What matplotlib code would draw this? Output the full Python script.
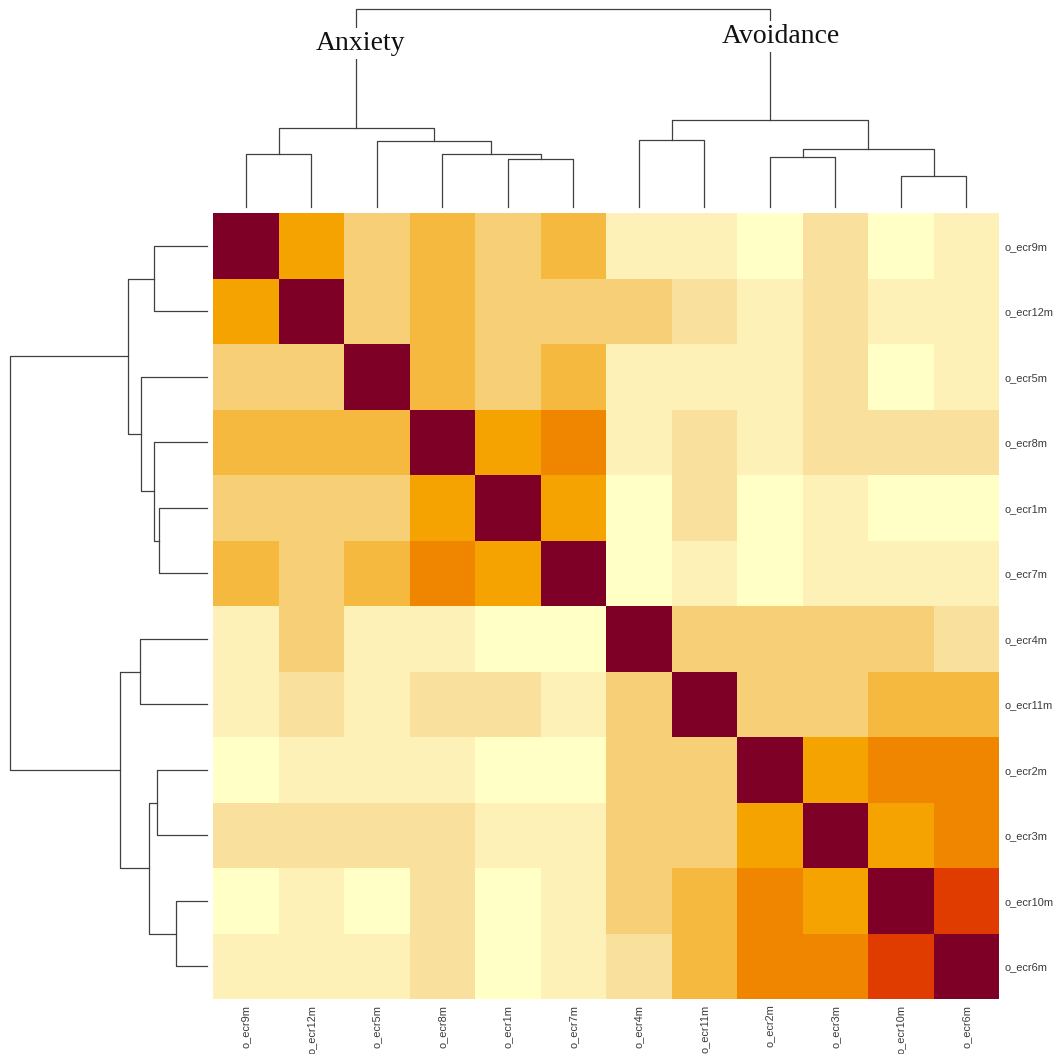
import numpy as np
import matplotlib
matplotlib.use("Agg")
import matplotlib.pyplot as plt
from matplotlib.colors import ListedColormap, BoundaryNorm

# items in the clustered (display) order
items = ["o_ecr9m", "o_ecr12m", "o_ecr5m", "o_ecr8m", "o_ecr1m", "o_ecr7m",
         "o_ecr4m", "o_ecr11m", "o_ecr2m", "o_ecr3m", "o_ecr10m", "o_ecr6m"]

# correlations
r = np.array([
    [1.00, .55, .35, .45, .35, .45, .15, .15, .05, .25, .05, .15],
    [.55, 1.00, .35, .45, .35, .35, .35, .25, .15, .25, .15, .15],
    [.35, .35, 1.00, .45, .35, .45, .15, .15, .15, .25, .05, .15],
    [.45, .45, .45, 1.00, .55, .65, .15, .25, .15, .25, .25, .25],
    [.35, .35, .35, .55, 1.00, .55, .05, .25, .05, .15, .05, .05],
    [.45, .35, .45, .65, .55, 1.00, .05, .15, .05, .15, .15, .15],
    [.15, .35, .15, .15, .05, .05, 1.00, .35, .35, .35, .35, .25],
    [.15, .25, .15, .25, .25, .15, .35, 1.00, .35, .35, .45, .45],
    [.05, .15, .15, .15, .05, .05, .35, .35, 1.00, .55, .65, .65],
    [.25, .25, .25, .25, .15, .15, .35, .35, .55, 1.00, .55, .65],
    [.05, .15, .05, .25, .05, .15, .35, .45, .65, .55, 1.00, .75],
    [.15, .15, .15, .25, .05, .15, .25, .45, .65, .65, .75, 1.00],
])

bounds = [0, .1, .2, .3, .4, .5, .6, .7, .8, 1.01]
colors = ["#FFFFC6", "#FDF1B8", "#F9E09D", "#F6CF77", "#F5B93F",
          "#F5A300", "#F08600", "#E03C00", "#7F0026"]

# hierarchical merges: (left, right, height); leaves 0..11, nodes 12+
merges = [
    (4, 5, 0.48),
    (3, 12, 0.535),
    (2, 13, 0.66),
    (0, 1, 0.53),
    (15, 14, 0.79),
    (10, 11, 0.31),
    (8, 9, 0.50),
    (18, 17, 0.58),
    (6, 7, 0.67),
    (20, 19, 0.87),
    (16, 21, 1.98),
]
cluster_names = ["Anxiety", "Avoidance"]

W, H = 1058, 1054
fig = plt.figure(figsize=(W / 100, H / 100), dpi=100)

cmap = ListedColormap(colors)
norm = BoundaryNorm(bounds, cmap.N)

ax = fig.add_axes([213 / W, (H - 999) / H, 786 / W, 786 / H])
ax.pcolormesh(r, cmap=cmap, norm=norm)
ax.set_xlim(0, 12)
ax.set_ylim(12, 0)
for s in ax.spines.values():
    s.set_visible(False)
ax.set_xticks(np.arange(12) + 0.5)
ax.set_xticklabels(items, rotation=90, fontsize=7.9, color="#3a3a3a",
                   family="Liberation Sans")
ax.set_yticks(np.arange(12) + 0.5)
ax.set_yticklabels(items, fontsize=7.9, color="#3a3a3a", family="Liberation Sans")
ax.yaxis.tick_right()
ax.tick_params(length=0, pad=4.0)


def dendro(axd, horizontal):
    pos = {i: i + 0.5 for i in range(12)}
    hgt = {i: 0.0 for i in range(12)}
    for k, (a, b, h) in enumerate(merges):
        xs = [pos[a], pos[a], pos[b], pos[b]]
        ys = [hgt[a], h, h, hgt[b]]
        if horizontal:
            axd.plot(ys, xs, color="#404040", lw=0.9, clip_on=False)
        else:
            axd.plot(xs, ys, color="#404040", lw=0.9, clip_on=False)
        pos[12 + k] = (pos[a] + pos[b]) / 2
        hgt[12 + k] = h
    axd.axis("off")
    return pos


axt = fig.add_axes([213 / W, (H - 207) / H, 786 / W, (207 - 9.3) / H])
pos = dendro(axt, False)
axt.set_xlim(0, 12)
axt.set_ylim(0, 1.98)

axl = fig.add_axes([9.5 / W, (H - 999) / H, (207 - 9.5) / W, 786 / H])
dendro(axl, True)
axl.set_ylim(12, 0)
axl.set_xlim(1.98, 0)

# cluster names sit on the two top branches
for name, node, yoff in zip(cluster_names, [16, 21], [1.64, 1.71]):
    x = pos[node] + 0.06 if name == "Anxiety" else pos[node] + 0.17
    axt.text(x, yoff, name, ha="center", va="center", fontsize=20,
             family="Liberation Serif", color="#111111",
             bbox=dict(facecolor="white", edgecolor="none", pad=2))

fig.savefig("out.png", dpi=100)
